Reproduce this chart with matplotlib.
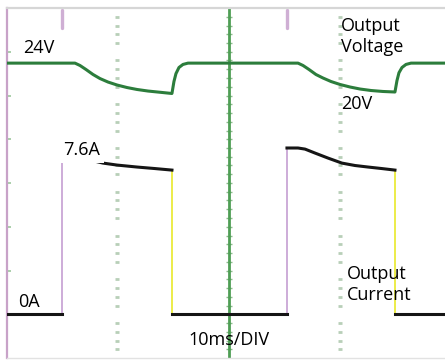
import numpy as np
import matplotlib
matplotlib.use("Agg")
import matplotlib.pyplot as plt

plt.rcParams['font.family'] = ['Open Sans', 'DejaVu Sans']

# --- SCOPE SETTINGS ---
MS_PER_DIV = 10
V_PER_DIV = 5.0
V_OFFSET_DIV = 1.94   # screen position of 0 V (off screen)
A_PER_DIV = 2.0
A_OFFSET_DIV = 1.0    # screen position of 0 A

# --- DATA (time in ms, voltage in V, current in A) ---
v_time = [0.1, 6.20, 6.65, 7.19, 7.82, 8.44, 9.16, 9.97, 10.87, 11.76, 12.75, 13.83, 14.90,
          15.08, 15.26, 15.53, 15.89, 16.34,
          26.21, 26.66, 27.20, 27.82, 28.45, 29.17, 29.98, 30.88, 31.78, 32.77, 33.83, 34.91,
          35.09, 35.27, 35.54, 35.90, 36.35, 39.4]
v_volts = [24.0, 24.0, 23.73, 23.27, 22.70, 22.24, 21.84, 21.50, 21.21, 20.99, 20.81, 20.67, 20.53,
           21.9, 22.8, 23.5, 23.85, 24.0,
           24.0, 23.73, 23.27, 22.70, 22.30, 21.90, 21.56, 21.27, 21.04, 20.87, 20.76, 20.70,
           22.0, 22.9, 23.5, 23.85, 24.0, 24.0]

# high part of each current pulse
p1_time = [5.03, 6.02, 6.65, 7.55, 8.71, 9.97, 11.76, 13.38, 14.90]
p1_amps = [7.51, 7.51, 7.28, 7.05, 6.91, 6.82, 6.73, 6.66, 6.59]
p2_time = [25.22, 26.21, 26.84, 27.73, 28.90, 30.15, 31.32, 32.49, 33.74, 34.91]
p2_amps = [7.60, 7.60, 7.55, 7.37, 7.14, 6.91, 6.80, 6.73, 6.66, 6.59]

# low (0 A) segments
low_start = [0.1, 14.90, 34.91]
low_end = [5.03, 25.22, 39.4]

rise_times = [5.03, 25.22]
fall_times = [14.90, 34.91]


def v2div(v):
    return np.asarray(v) / V_PER_DIV + V_OFFSET_DIV


def a2div(a):
    return np.asarray(a) / A_PER_DIV + A_OFFSET_DIV


def graticule_axis(frac, major, minor, color, length, width):
    sec = ax.secondary_yaxis(frac)
    sec.spines[:].set_visible(False)
    sec.set_yticks(major)
    sec.set_yticks(minor, minor=True)
    sec.tick_params(which='both', direction='inout', length=length, width=width, color=color,
                    labelleft=False, labelright=False)
    return sec


fig = plt.figure(figsize=(4.45, 3.60), dpi=100)
ax = fig.add_axes([7 / 445, 2 / 360, 438 / 445, 350 / 360])
ax.set_xlim(0.1, 39.4)
ax.set_ylim(0, 8)

# frame
ax.spines['right'].set_visible(False)
ax.spines['left'].set_color('#c8a2c8')
ax.spines['left'].set_linewidth(1.6)
ax.spines['top'].set_color('#d6d6d6')
ax.spines['top'].set_linewidth(1.6)
ax.spines['bottom'].set_color('#e2e2e2')
ax.spines['bottom'].set_linewidth(1.0)
ax.set_xticks([])
ax.set_yticks(range(1, 8))
ax.tick_params(axis='y', direction='in', length=3, width=1.2, color='#9cc79c', labelleft=False)

# graticule
xl = ax.get_xlim()
dots = [y for y in np.arange(0.2, 7.9, 0.2) if abs(y - round(y)) > 0.05]
for t in [MS_PER_DIV, 3 * MS_PER_DIV]:
    graticule_axis((t - xl[0]) / (xl[1] - xl[0]), [], dots, '#b8cfb8', 2.5, 2)

ax.axvline(2 * MS_PER_DIV, color='#4f9e55', lw=2.0, zorder=1)
graticule_axis((2 * MS_PER_DIV - xl[0]) / (xl[1] - xl[0]), range(1, 8),
               np.arange(0.2, 8, 0.2), '#8dbb8d', 4, 1)

# trigger markers
for t in rise_times:
    ax.plot([t, t], [7.55, 7.95], color='#b07ab8', lw=2.4, alpha=0.6, solid_capstyle='round')

# current edges
for t, a0 in zip(rise_times, [p1_amps[0], p2_amps[0]]):
    ax.plot([t, t], a2div([0, a0]), color='#c9a6d6', lw=1.3, zorder=2)
for t, a1 in zip(fall_times, [p1_amps[-1], p2_amps[-1]]):
    ax.plot([t, t], a2div([0, a1]), color='#eaea3a', lw=1.3, zorder=2)

# current trace
for t0, t1 in zip(low_start, low_end):
    ax.plot([t0, t1], a2div([0, 0]), color='#151515', lw=2.2, zorder=3)
ax.plot(p1_time, a2div(p1_amps), color='#151515', lw=2.2, zorder=3)
ax.plot(p2_time, a2div(p2_amps), color='#151515', lw=2.2, zorder=3)

# voltage trace
ax.plot(v_time, v2div(v_volts), color='#2c7d3c', lw=2.2, zorder=3)

# labels
fs = 13
ax.text(1.54, 6.97, '24V', fontsize=fs, va='baseline')
ax.text(5.12, 4.64, '7.6A', fontsize=fs, va='baseline', zorder=4,
        bbox=dict(facecolor='white', edgecolor='none', pad=3))
ax.text(1.09, 1.17, '0A', fontsize=fs, va='baseline')
ax.text(30.07, 5.69, '20V', fontsize=fs, va='baseline')
ax.text(30.07, 7.47, 'Output', fontsize=fs, va='baseline')
ax.text(30.07, 6.99, 'Voltage', fontsize=fs, va='baseline')
ax.text(30.6, 1.81, 'Output', fontsize=fs, va='baseline')
ax.text(30.6, 1.33, 'Current', fontsize=fs, va='baseline')
ax.text(16.34, 0.30, '10ms/DIV', fontsize=fs, va='baseline')

fig.savefig('out.png', dpi=100)
